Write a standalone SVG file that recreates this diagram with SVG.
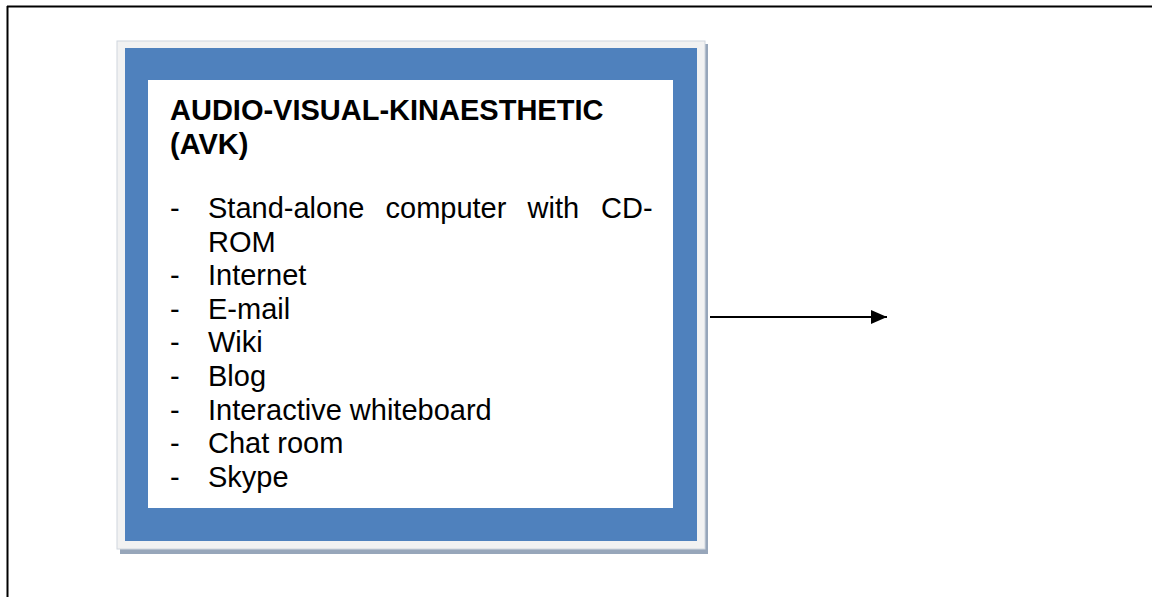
<svg xmlns="http://www.w3.org/2000/svg" width="1152" height="597" viewBox="0 0 1152 597">
  <style>
    .frame { stroke: #000; stroke-width: 2; fill: none; }
    .shadow { fill: #97a6ba; }
    .mat { fill: #f2f2f2; stroke: #d0d6de; stroke-width: 1; }
    .band { fill: #4f81bd; }
    .panel { fill: #fff; }
    .title { font-family: "Liberation Sans", Arial, sans-serif; font-size: 29px; font-weight: bold; fill: #000; }
    .item { font-family: "Liberation Sans", Arial, sans-serif; font-size: 29px; fill: #000; }
    .link { stroke: #000; stroke-width: 2; fill: none; }
  </style>
  <defs>
    <marker id="arrowhead" markerWidth="17" markerHeight="14" refX="16" refY="7" orient="auto" markerUnits="userSpaceOnUse">
      <path d="M0,0 L16,7 L0,14 Z" fill="#000"/>
    </marker>
  </defs>

  <rect width="1152" height="597" fill="#fff"/>

  <!-- page frame: top and left rules only -->
  <g id="frame">
    <line class="frame" x1="7" y1="6.5" x2="1152" y2="6.5"/>
    <line class="frame" x1="7.5" y1="6" x2="7.5" y2="597"/>
  </g>

  <g id="avk-box">
    <rect class="shadow" x="120" y="44" width="588" height="510"/>
    <rect class="mat" x="117" y="41" width="588" height="508"/>
    <rect class="band" x="125" y="48" width="572" height="493"/>
    <rect class="panel" x="148" y="80" width="525" height="428"/>

    <text class="title" x="170" y="120">AUDIO-VISUAL-KINAESTHETIC</text>
    <text class="title" x="170" y="153.5">(AVK)</text>

    <g class="item">
      <text x="170" y="218">-</text>
      <text x="208" y="218">Stand-alone</text>
      <text x="385.5" y="218">computer</text>
      <text x="527.5" y="218">with</text>
      <text x="601" y="218">CD-</text>
      <text x="208" y="251.6">ROM</text>

      <text x="170" y="285.2">-</text>
      <text x="208" y="285.2">Internet</text>
      <text x="170" y="318.8">-</text>
      <text x="208" y="318.8">E-mail</text>
      <text x="170" y="352.4">-</text>
      <text x="208" y="352.4">Wiki</text>
      <text x="170" y="386">-</text>
      <text x="208" y="386">Blog</text>
      <text x="170" y="419.6">-</text>
      <text x="208" y="419.6">Interactive whiteboard</text>
      <text x="170" y="453.2">-</text>
      <text x="208" y="453.2">Chat room</text>
      <text x="170" y="486.8">-</text>
      <text x="208" y="486.8">Skype</text>
    </g>
  </g>

  <g id="connectors">
    <line class="link" x1="710" y1="317" x2="887" y2="317" marker-end="url(#arrowhead)"/>
  </g>
</svg>
